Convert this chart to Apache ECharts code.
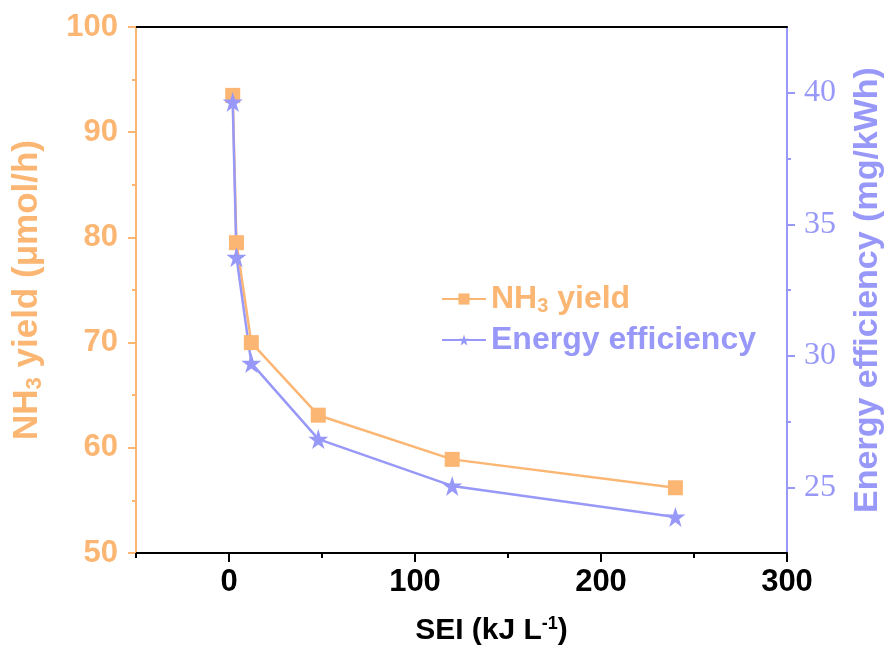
<!DOCTYPE html>
<html>
<head>
<meta charset="utf-8">
<title>NH3 yield / Energy efficiency</title>
<script src="https://cdn.jsdelivr.net/npm/echarts@6/dist/echarts.min.js"></script>
<style>
	html, body { margin: 0; padding: 0; background: #fff; overflow: hidden; }
	#main { width: 889px; height: 657px; }
</style>
</head>
<body>
<div id="main"></div>
<script>
// data
var sei = [2, 4, 12, 48, 120, 240];
var nh3Yield = [93.5, 79.5, 70.0, 63.1, 58.9, 56.2];
var energyEff = [39.65, 33.75, 29.72, 26.83, 25.05, 23.87];

var xMajor = [0, 100, 200, 300];
var xMinor = [-50, 50, 150, 250];
var rightMajor = [25, 30, 35, 40];
var rightMinor = [27.5, 32.5, 37.5];

var ORANGE = '#FBB673';
var BLUE = '#9898F8';
var FONT = 'Liberation Sans';

function pairs(xs, ys){
	var out = [];
	for(var i = 0; i < xs.length; i++){
		out.push([xs[i], ys[i]]);
	}
	return out;
}

var myChart = echarts.init(document.getElementById('main'), null, {renderer: 'canvas'});

var option = {
	animation: false,
	grid: {
		left: 136,
		right: 102,
		top: 27,
		bottom: 104,
		containLabel: false,
		outerBoundsMode: 'none'
	},
	legend: {
		left: 436,
		top: 278,
		orient: 'vertical',
		itemWidth: 44,
		itemHeight: 14,
		itemGap: 8,
		data: ['NH3 yield', 'Energy efficiency'],
		formatter: function (name){
			if(name == 'NH3 yield'){
				return '{o|NH}{os|3}{o| yield}';
			}
			return '{b|' + name + '}';
		},
		textStyle: {
			rich: {
				o: {color: ORANGE, fontFamily: FONT, fontWeight: 'bold', fontSize: 32},
				os: {color: ORANGE, fontFamily: FONT, fontWeight: 'bold', fontSize: 20, verticalAlign: 'bottom', padding: [14, 0, 0, 0]},
				b: {color: BLUE, fontFamily: FONT, fontWeight: 'bold', fontSize: 32}
			}
		}
	},
	xAxis: [{
		type: 'value',
		min: -50,
		max: 300,
		position: 'bottom',
		name: '{t|SEI (kJ L}{s|-1}{t|)}',
		nameLocation: 'middle',
		nameGap: 62,
		nameTextStyle: {
			padding: [0, 0, 0, 60],
			rich: {
				t: {fontFamily: FONT, fontWeight: 'bold', fontSize: 30, color: '#000'},
				s: {fontFamily: FONT, fontWeight: 'bold', fontSize: 18, color: '#000', verticalAlign: 'top', padding: [0, 0, 13, 0]}
			}
		},
		axisLine: {show: true, onZero: false, lineStyle: {color: '#000', width: 2}},
		axisTick: {show: true, inside: false, length: 9, customValues: xMajor, lineStyle: {color: '#000', width: 2}},
		axisLabel: {customValues: xMajor, margin: 14, color: '#000', fontFamily: FONT, fontWeight: 'bold', fontSize: 31},
		splitLine: {show: false}
	}, {
		// minor ticks of the bottom axis
		type: 'value',
		min: -50,
		max: 300,
		position: 'bottom',
		axisLine: {show: false, onZero: false},
		axisTick: {show: true, length: 5, customValues: xMinor, lineStyle: {color: '#000', width: 2}},
		axisLabel: {show: false},
		splitLine: {show: false}
	}, {
		// top frame line
		type: 'value',
		min: -50,
		max: 300,
		position: 'top',
		axisLine: {show: true, onZero: false, lineStyle: {color: '#000', width: 2}},
		axisTick: {show: false},
		axisLabel: {show: false},
		splitLine: {show: false}
	}],
	yAxis: [{
		type: 'value',
		min: 50,
		max: 100,
		interval: 10,
		position: 'left',
		name: '{t|NH}{s|3}{t| yield (μmol/h)}',
		nameLocation: 'middle',
		nameGap: 90,
		nameRotate: 90,
		nameTextStyle: {
			rich: {
				t: {fontFamily: FONT, fontWeight: 'bold', fontSize: 35, color: ORANGE},
				s: {fontFamily: FONT, fontWeight: 'bold', fontSize: 22, color: ORANGE, verticalAlign: 'bottom', padding: [15, 0, 0, 0]}
			}
		},
		axisLine: {show: true, onZero: false, lineStyle: {color: ORANGE, width: 2}},
		axisTick: {show: true, length: 8, lineStyle: {color: ORANGE, width: 2}},
		minorTick: {show: true, splitNumber: 2, length: 4, lineStyle: {color: ORANGE, width: 2}},
		axisLabel: {margin: 18, color: ORANGE, fontFamily: FONT, fontWeight: 'bold', fontSize: 31},
		splitLine: {show: false},
		minorSplitLine: {show: false}
	}, {
		type: 'value',
		min: 22.5,
		max: 42.5,
		position: 'right',
		name: 'Energy efficiency (mg/kWh)',
		nameLocation: 'middle',
		nameGap: 64,
		nameRotate: 90,
		nameTextStyle: {fontFamily: FONT, fontWeight: 'bold', fontSize: 34, color: BLUE},
		axisLine: {show: true, onZero: false, lineStyle: {color: BLUE, width: 2}},
		axisTick: {show: true, length: 8, customValues: rightMajor, lineStyle: {color: BLUE, width: 2}},
		axisLabel: {customValues: rightMajor, margin: 17, color: BLUE, fontFamily: 'Liberation Serif', fontSize: 32},
		splitLine: {show: false}
	}, {
		// minor ticks of the right axis
		type: 'value',
		min: 22.5,
		max: 42.5,
		position: 'right',
		axisLine: {show: false, onZero: false},
		axisTick: {show: true, length: 4, customValues: rightMinor, lineStyle: {color: BLUE, width: 2}},
		axisLabel: {show: false},
		splitLine: {show: false}
	}],
	series: [{
		name: 'NH3 yield',
		type: 'line',
		xAxisIndex: 0,
		yAxisIndex: 0,
		symbol: 'rect',
		symbolSize: 15,
		lineStyle: {color: ORANGE, width: 2.5},
		itemStyle: {color: ORANGE},
		data: pairs(sei, nh3Yield)
	}, {
		name: 'Energy efficiency',
		type: 'line',
		xAxisIndex: 0,
		yAxisIndex: 1,
		symbol: 'path://M50,0 L61.8,36.2 L100,36.2 L69.1,58.8 L80.9,95.1 L50,72.7 L19.1,95.1 L30.9,58.8 L0,36.2 L38.2,36.2 Z',
		symbolSize: 20,
		lineStyle: {color: BLUE, width: 2.5},
		itemStyle: {color: BLUE},
		data: pairs(sei, energyEff)
	}]
};

myChart.setOption(option);
</script>
</body>
</html>
